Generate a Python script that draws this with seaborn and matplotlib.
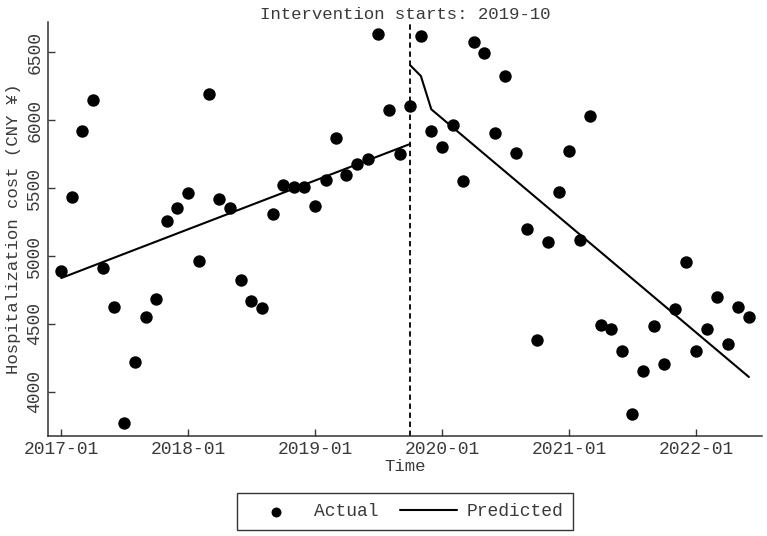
import matplotlib
matplotlib.use("Agg")
from matplotlib import pyplot as plt
import matplotlib.dates as mdates
import seaborn as sns
import pandas as pd

# monthly observed hospitalization cost, 2017-01 .. 2022-06
months = pd.date_range("2017-01-01", "2022-06-01", freq="MS")
actual = [
    4890, 5436, 5919, 6149, 4914, 4627, 3774, 4218, 4549, 4682, 5255, 5351,
    5466, 4966, 6191, 5419, 5351, 4824, 4672, 4618, 5309, 5522, 5505, 5505,
    5370, 5557, 5870, 5596, 5674, 5711, 6630, 6076, 5750, 6103, 6620, 5919,
    5799, 5961, 5551, 6571, 6495, 5902, 6321, 5755, 5201, 4380, 5101, 5473,
    5772, 5120, 6029, 4495, 4461, 4299, 3841, 4152, 4488, 4209, 4613, 4956,
    4299, 4466, 4701, 4355, 4627, 4554,
]

# fitted segments (vertices of the predicted line)
pre_dates = pd.to_datetime(["2017-01-01", "2019-10-01"])
pre_pred = [4838, 5824]
post_dates = pd.to_datetime(["2019-10-01", "2019-11-01", "2019-12-01", "2022-06-01"])
post_pred = [6404, 6324, 6079, 4110]

intervention = pd.Timestamp("2019-10-01")

df = pd.DataFrame({"month": months, "cost": actual})
pre = pd.DataFrame({"month": pre_dates, "cost": pre_pred})
post = pd.DataFrame({"month": post_dates, "cost": post_pred})

sns.set_style("ticks")
plt.rcParams["font.family"] = ["Liberation Mono", "DejaVu Sans Mono"]
plt.rcParams["text.color"] = "#3a3a3a"
plt.rcParams["axes.labelcolor"] = "#3a3a3a"
plt.rcParams["xtick.color"] = "#3a3a3a"
plt.rcParams["ytick.color"] = "#3a3a3a"

fig = plt.figure(figsize=(7.67, 5.36), dpi=100)
ax = fig.add_axes([0.0626, 0.1866, 0.931, 0.772])

sns.scatterplot(data=df, x="month", y="cost", color="black", s=80,
                edgecolor="black", linewidth=0, ax=ax, label="Actual", zorder=3)
sns.lineplot(data=pre, x="month", y="cost", color="black", lw=1.5, ax=ax,
             label="Predicted")
sns.lineplot(data=post, x="month", y="cost", color="black", lw=1.5, ax=ax,
             legend=False)
ax.axvline(intervention, color="black", lw=1.3, ls=(0, (3, 2)))

ax.set_xlim(pd.Timestamp("2016-11-24"), pd.Timestamp("2022-07-09"))
ax.set_ylim(3676, 6720)
ax.set_yticks([4000, 4500, 5000, 5500, 6000, 6500])
ax.xaxis.set_major_locator(mdates.YearLocator())
ax.xaxis.set_major_formatter(mdates.DateFormatter("%Y-%m"))

for lab in ax.get_yticklabels():
    lab.set_rotation(90)
    lab.set_va("center")
ax.tick_params(direction="in", labelsize=13, length=5, width=1)

sns.despine(ax=ax)
for s in ["left", "bottom"]:
    ax.spines[s].set_linewidth(1.1)
    ax.spines[s].set_color("#333333")

ax.set_xlabel("Time", fontsize=12.5, labelpad=1)
ax.set_ylabel("Hospitalization cost (CNY ¥)", fontsize=12.5, labelpad=4)
ax.set_title("Intervention starts: 2019-10", fontsize=12.5, pad=2)

ax.get_legend().remove()
h, l = ax.get_legend_handles_labels()
leg = fig.legend(h, l, loc="center", bbox_to_anchor=(0.528, 0.045), ncol=2,
                 fontsize=13, frameon=True, fancybox=False, edgecolor="black",
                 handlelength=3.2, handletextpad=0.5, columnspacing=1.2,
                 borderpad=0.55, markerscale=0.8)
leg.get_frame().set_linewidth(1)

fig.savefig("out.png", dpi=100)
